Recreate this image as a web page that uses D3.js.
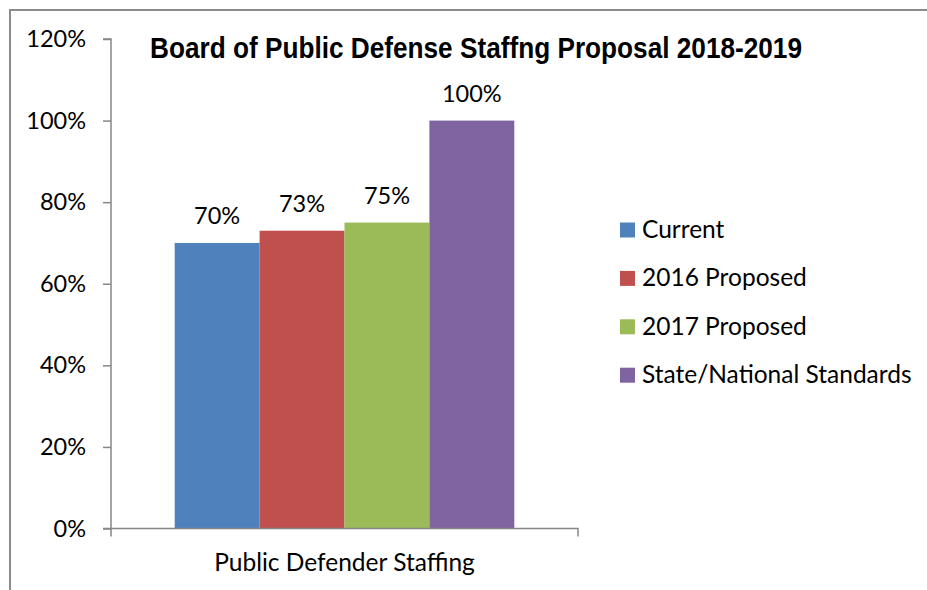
<!DOCTYPE html>
<html>
<head>
<meta charset="utf-8">
<script src="https://cdn.jsdelivr.net/npm/d3@7"></script>
<style>
  body { margin: 0; background: #fff; }
  svg text { font-family: Lato, "Open Sans", sans-serif; fill: #000; }
</style>
</head>
<body>
<svg id="fig" width="927" height="590"></svg>
<script>
// data
const category = 'Public Defender Staffing';
const seriesNames = ['Current', '2016 Proposed', '2017 Proposed', 'State/National Standards'];
const seriesValues = [70, 73, 75, 100];
const seriesColors = ['#4F81BD', '#C0504D', '#9BBB59', '#8064A2'];
const yTicks = [0, 20, 40, 60, 80, 100, 120];

const svg = d3.select('#fig');
const axisColor = '#868686';

// outer frame (only top and left edges show in the picture)
svg.append('path')
    .attr('d', 'M10,590 V10 H927')
    .attr('fill', 'none')
    .attr('stroke', '#8c8c8c')
    .attr('stroke-width', 2);

const plot = { left: 111, right: 578, top: 39, bottom: 528.5 };

const y = d3.scaleLinear().domain([0, 120]).range([plot.bottom, plot.top]);
const x0 = d3.scaleBand().domain([category]).range([plot.left, plot.right])
    .paddingInner(0).paddingOuter(0);
// gap width 150% of a bar: group = 4 bars, gap = 1.5 bars
const groupPad = 1.5 / (4 + 1.5);
const groupWidth = x0.bandwidth() * (1 - groupPad);
const x1 = d3.scaleBand().domain(seriesNames)
    .range([x0(category) + (x0.bandwidth() - groupWidth) / 2,
            x0(category) + (x0.bandwidth() + groupWidth) / 2])
    .padding(0);

const data = seriesNames.map((s, i) => ({ name: s, value: seriesValues[i], color: seriesColors[i] }));

// bars
svg.append('g').selectAll('rect').data(data).join('rect')
    .attr('x', d => x1(d.name))
    .attr('y', d => y(d.value))
    .attr('width', x1.bandwidth())
    .attr('height', d => y(0) - y(d.value))
    .attr('fill', d => d.color);

// value labels
svg.append('g').selectAll('text').data(data).join('text')
    .attr('x', d => x1(d.name) + x1.bandwidth() / 2)
    .attr('y', d => y(d.value) - 19)
    .attr('text-anchor', 'middle')
    .style('font-size', '23.5px')
    .text(d => d.value + '%');

// y axis
const yAxis = d3.axisLeft(y).tickValues(yTicks).tickSize(8).tickPadding(17)
    .tickFormat(d => d + '%');
const gy = svg.append('g').attr('transform', `translate(${plot.left},0)`).call(yAxis);
gy.select('.domain').attr('stroke', axisColor).attr('stroke-width', 1.5)
    .attr('d', `M-8,${plot.top}H0V${plot.bottom}H-8`);
gy.selectAll('.tick line').attr('stroke', axisColor).attr('stroke-width', 1.5);
gy.selectAll('.tick text').style('font-size', '23.5px').attr('fill', '#000')
    .style('font-family', 'Lato, sans-serif');

// x axis
const gx = svg.append('g').attr('transform', `translate(0,${plot.bottom})`);
gx.append('path')
    .attr('d', `M${plot.left},8V0H${plot.right}V8`)
    .attr('fill', 'none').attr('stroke', axisColor).attr('stroke-width', 1.5);
gx.append('text')
    .attr('x', x0(category) + x0.bandwidth() / 2)
    .attr('y', 42)
    .attr('text-anchor', 'middle')
    .style('font-size', '24.5px')
    .text(category);

// title
svg.append('text')
    .attr('x', 150).attr('y', 58)
    .attr('textLength', 652).attr('lengthAdjust', 'spacingAndGlyphs')
    .style('font-family', '"Liberation Sans Narrow", "Liberation Sans", Arial, sans-serif')
    .style('font-weight', 'bold')
    .style('font-size', '30px')
    .text('Board of Public Defense Staffng Proposal 2018-2019');

// legend
const legend = svg.append('g').attr('transform', 'translate(620,222.5)');
const item = legend.selectAll('g').data(data).join('g')
    .attr('transform', (d, i) => `translate(0,${i * 48.4})`);
item.append('rect').attr('width', 15).attr('height', 15).attr('fill', d => d.color);
item.append('text').attr('x', 22).attr('y', 15.5)
    .style('font-size', '24.5px')
    .text(d => d.name);
</script>
</body>
</html>
